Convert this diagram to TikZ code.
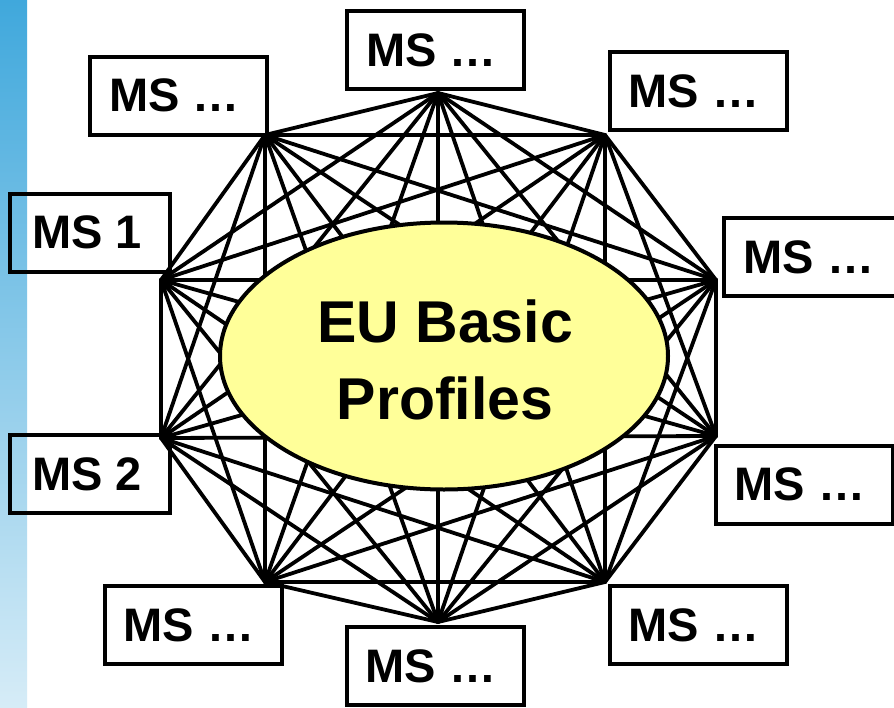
\documentclass[tikz,border=0pt]{standalone}
\usepackage{fontspec}
\setmainfont{Liberation Sans}
\usetikzlibrary{shapes.geometric}
\definecolor{barTop}{RGB}{64,168,220}
\definecolor{barBot}{RGB}{214,236,247}
\definecolor{ellfill}{RGB}{255,255,153}
\begin{document}
\begin{tikzpicture}[x=1pt,y=-1pt,
  msbox/.style={draw=black, line width=4pt, minimum width=177pt, minimum height=78pt,
    inner sep=0pt, font=\fontsize{47}{52}\selectfont\bfseries},
  link/.style={line width=3.8pt, line cap=round, line join=round}]
\useasboundingbox (0,0) rectangle (894,707);
\clip (0,0) rectangle (894,707);
\fill[white] (0,0) rectangle (894,707);
\shade[top color=barTop, bottom color=barBot] (0,0) rectangle (27,707);
% vertices
\coordinate (A) at (438,93);
\coordinate (B) at (265,135);
\coordinate (C) at (605,135);
\coordinate (D) at (161,280);
\coordinate (E) at (716,280);
\coordinate (F) at (161,438);
\coordinate (G) at (716,436);
\coordinate (H) at (265,582);
\coordinate (I) at (605,582);
\coordinate (J) at (438,622);
% complete graph
\foreach \a [count=\i] in {A,B,C,D,E,F,G,H,I,J}{
  \foreach \b [count=\j] in {A,B,C,D,E,F,G,H,I,J}{
    \ifnum\j>\i \draw[link] (\a) -- (\b);\fi
  }
}
% central ellipse
\node[ellipse, draw=black, line width=4pt, fill=ellfill, inner sep=0pt,
  minimum width=448pt, minimum height=267pt] (eu) at (444,356) {};
\node[align=center, inner sep=0pt, font=\fontsize{59}{77}\selectfont\bfseries] (eutext) at (445,360) {EU Basic\\Profiles};
% member state boxes
\node[msbox] (mstop) at (435.5,50) {MS …\hspace*{8pt}};
\node[msbox] (msul) at (178.5,95.5) {MS …\hspace*{8pt}};
\node[msbox] (msur) at (698,91) {MS …\hspace*{8pt}};
\node[msbox, minimum width=160pt] (ms1) at (90,232.5) {MS 1\hspace*{6pt}};
\node[msbox] (msr1) at (812,257) {MS …\hspace*{6pt}};
\node[msbox, minimum width=160pt] (ms2) at (90,474) {MS 2\hspace*{6pt}};
\node[msbox] (msr2) at (804,484.5) {MS …\hspace*{8pt}};
\node[msbox] (msll) at (193,625) {MS …\hspace*{8pt}};
\node[msbox] (mslr) at (698,625) {MS …\hspace*{8pt}};
\node[msbox] (msbot) at (435,666) {MS …\hspace*{8pt}};
\end{tikzpicture}
\end{document}
